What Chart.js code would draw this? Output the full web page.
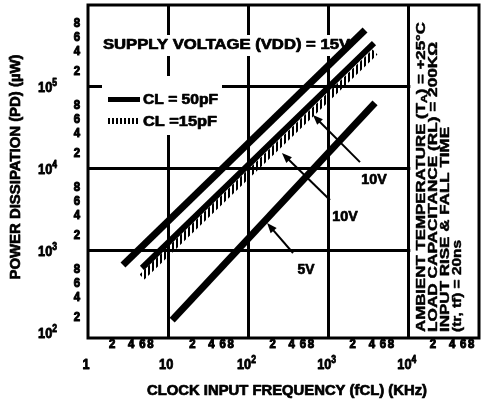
<!DOCTYPE html>
<html>
<head>
<meta charset="utf-8">
<script src="https://cdn.jsdelivr.net/npm/chart.js@4.4.1/dist/chart.umd.min.js"></script>
<style>
  body{margin:0;background:#fff}
  canvas{display:block}
</style>
</head>
<body>
<canvas id="grafico" width="483" height="402"></canvas>
<script>
// ends of each line: frequency in kHz, power in uW
const freq15V50 = [2.73, 2845];
const pd15V50   = [656, 482000];
const freq10V50 = [4.71, 3680];
const pd10V50   = [603, 334000];
const freq15V15 = [4.71, 3790];
const pd15V15   = [469, 260000];
const freq5V50  = [11.2, 3790];
const pd5V50    = [140, 62100];

// axes
const xMajor = [1, 10, 100, 1000, 10000];
const xMajorLabels = ['1', '10', '10^2', '10^3', '10^4'];
const yMajor = [100, 1000, 10000, 100000];
const yMajorLabels = ['10^2', '10^3', '10^4', '10^5'];
const minorDigits = [2, 4, 6, 8];
const xMinorDecades = [1, 10, 100, 1000, 10000];
const yMinorDecades = [100, 1000, 10000, 100000];
const xGrid = [10, 100, 1000, 10000];
const yGrid = [1000, 10000, 100000];

const legendLabels = ['CL = 50pF', 'CL =15pF'];
const supplyText = 'SUPPLY VOLTAGE (VDD) = 15V';
const xTitle = 'CLOCK INPUT FREQUENCY (fCL) (KHz)';
const yTitle = 'POWER DISSIPATION (PD) (\u00b5W)';

// arrow callouts, in data units
const callouts = [
  {label:'10V', tip:[638, 44400], tail:[2460, 11800], at:[3680, 7140]},
  {label:'10V', tip:[262, 15200], tail:[1040, 4070], at:[1600, 2530]},
  {label:'5V',  tip:[171, 2130],  tail:[360, 920],    at:[523, 570]}
];

const FONT = '"Liberation Sans", Arial, sans-serif';

// hatch pattern for the 15pF line
const hc = document.createElement('canvas');
hc.width = 4; hc.height = 4;
const hx = hc.getContext('2d');
hx.fillStyle = '#000';
hx.fillRect(0, 0, 2, 4);
const canvas = document.getElementById('grafico');
const hatch = canvas.getContext('2d').createPattern(hc, 'repeat');

function pts(f, p){ return f.map((v,i)=>({x:v, y:p[i]})); }

// draws text runs [text, size, dy], squeezed horizontally, a bit heavier than bold
function runs(ctx, parts, x, y, o){
  ctx.save();
  ctx.translate(x, y);
  if(o.rot) ctx.rotate(o.rot);
  let tot = 0;
  const ws = parts.map(p=>{
    ctx.font = `bold ${p[1]}px ${FONT}`;
    const w = ctx.measureText(p[0]).width;
    tot += w;
    return w;
  });
  const sx = o.w ? o.w/tot : (o.sx || 0.85);
  ctx.scale(sx, 1);
  let cx = o.align==='center' ? -tot/2 : o.align==='right' ? -tot : 0;
  ctx.textBaseline = 'middle';
  ctx.textAlign = 'left';
  ctx.fillStyle = '#000';
  ctx.strokeStyle = '#000';
  ctx.lineWidth = o.heavy==null ? 0.7 : o.heavy;
  ctx.lineJoin = 'round';
  parts.forEach((p,i)=>{
    ctx.font = `bold ${p[1]}px ${FONT}`;
    ctx.fillText(p[0], cx, p[2]||0);
    if(ctx.lineWidth>0) ctx.strokeText(p[0], cx, p[2]||0);
    cx += ws[i];
  });
  ctx.restore();
}

function expParts(lbl, size){
  if(lbl.indexOf('^')<0) return [[lbl, size]];
  const s = lbl.split('^');
  return [[s[0], size], [s[1], 10, -5]];
}

function arrow(ctx, x1, y1, x2, y2){
  const a = Math.atan2(y2-y1, x2-x1), c = Math.cos(a), s = Math.sin(a);
  ctx.lineWidth = 2;
  ctx.beginPath();
  ctx.moveTo(x1, y1);
  ctx.lineTo(x2-6*c, y2-6*s);
  ctx.stroke();
  ctx.beginPath();
  ctx.moveTo(x2, y2);
  ctx.lineTo(x2-10*c+4*s, y2-10*s-4*c);
  ctx.lineTo(x2-10*c-4*s, y2-10*s+4*c);
  ctx.closePath();
  ctx.fill();
}

const deco = {
  id:'deco',
  beforeDatasetsDraw(chart){
    const {ctx, chartArea:a, scales:{x}} = chart;
    ctx.save();
    ctx.fillStyle = '#fff';
    ctx.fillRect(100, 35, 256, 21);
    ctx.fillRect(102, 76, 120, 59);
    const px4 = x.getPixelForValue(10000);
    ctx.fillRect(px4+1.5, a.top, a.right-px4-1.5, a.bottom-a.top);
    ctx.strokeStyle = '#000';
    ctx.lineWidth = 3;
    ctx.strokeRect(a.left, a.top, a.right-a.left, a.bottom-a.top);

    runs(ctx, [[supplyText, 14]], 103, 45, {w:247});
    ctx.fillStyle = '#000';
    ctx.fillRect(108, 97, 32, 5);
    ctx.fillStyle = hatch;
    ctx.fillRect(108, 118, 32, 6);
    runs(ctx, [[legendLabels[0], 14]], 143, 100, {w:75});
    runs(ctx, [[legendLabels[1], 14]], 143, 122, {w:74});

    // conditions, rotated
    const r = -Math.PI/2;
    runs(ctx, [['AMBIENT TEMPERATURE (T', 12.5], ['A', 9, 3], [') = +25\u00b0C', 12.5]], 422, 332, {rot:r, w:310, heavy:0.45});
    runs(ctx, [['LOAD CAPACITANCE (RL) = 200K\u03a9', 12.5]], 434, 332, {rot:r, w:290, heavy:0.45});
    runs(ctx, [['INPUT RISE & FALL TIME', 12.5]], 446, 332, {rot:r, w:205, heavy:0.45});
    runs(ctx, [['(tr, tf) = 20ns', 12.5]], 458, 332, {rot:r, w:92, heavy:0.45});
    ctx.restore();
  },
  afterDatasetsDraw(chart){
    const {ctx, scales:{x, y}} = chart;
    ctx.save();
    ctx.strokeStyle = '#000';
    ctx.fillStyle = '#000';
    callouts.forEach(c=>{
      arrow(ctx, x.getPixelForValue(c.tail[0]), y.getPixelForValue(c.tail[1]),
                 x.getPixelForValue(c.tip[0]), y.getPixelForValue(c.tip[1]));
      runs(ctx, [[c.label, 14]], x.getPixelForValue(c.at[0]), y.getPixelForValue(c.at[1]),
           {align:'center', w: c.label.length*8.5});
    });

    // tick labels
    const xOff = {2:0, 4:-5, 6:-8, 8:-10};
    const yOff = {2:10, 4:15, 6:15, 8:12};
    xMinorDecades.forEach(d=>minorDigits.forEach(k=>{
      runs(ctx, [[String(k), 12]], x.getPixelForValue(k*d)+xOff[k], 345, {align:'center', sx:0.95, heavy:1});
    }));
    yMinorDecades.forEach(d=>minorDigits.forEach(k=>{
      runs(ctx, [[String(k), 12]], 77, y.getPixelForValue(k*d)+yOff[k], {align:'center', sx:0.95, heavy:1});
    }));
    xMajor.forEach((v,i)=>{
      runs(ctx, expParts(xMajorLabels[i], 15), x.getPixelForValue(v)-2, 365, {align:'center', sx:0.85, heavy:0.9});
    });
    yMajor.forEach((v,i)=>{
      runs(ctx, expParts(yMajorLabels[i], 15), 57, y.getPixelForValue(v)+2, {align:'right', sx:0.85, heavy:0.9});
    });

    runs(ctx, [[xTitle, 14]], 287, 391, {align:'center', w:280});
    runs(ctx, [[yTitle, 14]], 16, 167, {align:'center', w:225, rot:-Math.PI/2});
    ctx.restore();
  }
};

const chart = new Chart(canvas, {
  type:'line',
  data:{
    datasets:[
      {label:'15V 50pF', data:pts(freq15V50, pd15V50), borderColor:'#000', borderWidth:7, order:1},
      {label:'10V 50pF', data:pts(freq10V50, pd10V50), borderColor:'#000', borderWidth:6, order:1},
      {label:'15V 15pF', data:pts(freq15V15, pd15V15), borderColor:hatch, borderWidth:7, order:2},
      {label:'5V 50pF',  data:pts(freq5V50, pd5V50),  borderColor:'#000', borderWidth:7, order:1}
    ]
  },
  options:{
    responsive:false,
    animation:false,
    layout:{padding:{left:88, right:4, top:5, bottom:64}},
    plugins:{legend:{display:false}, tooltip:{enabled:false}},
    elements:{point:{radius:0}, line:{tension:0, borderCapStyle:'butt', fill:false}},
    scales:{
      x:{
        type:'logarithmic', min:1, max:75000,
        afterBuildTicks:s=>{ s.ticks = xGrid.map(v=>({value:v})); },
        ticks:{display:false},
        grid:{color:'#000', lineWidth:3, drawTicks:false},
        border:{display:false}
      },
      y:{
        type:'logarithmic', min:84.5, max:973000,
        afterBuildTicks:s=>{ s.ticks = yGrid.map(v=>({value:v})); },
        ticks:{display:false},
        grid:{color:'#000', lineWidth:3, drawTicks:false},
        border:{display:false}
      }
    }
  },
  plugins:[deco]
});
</script>
</body>
</html>
